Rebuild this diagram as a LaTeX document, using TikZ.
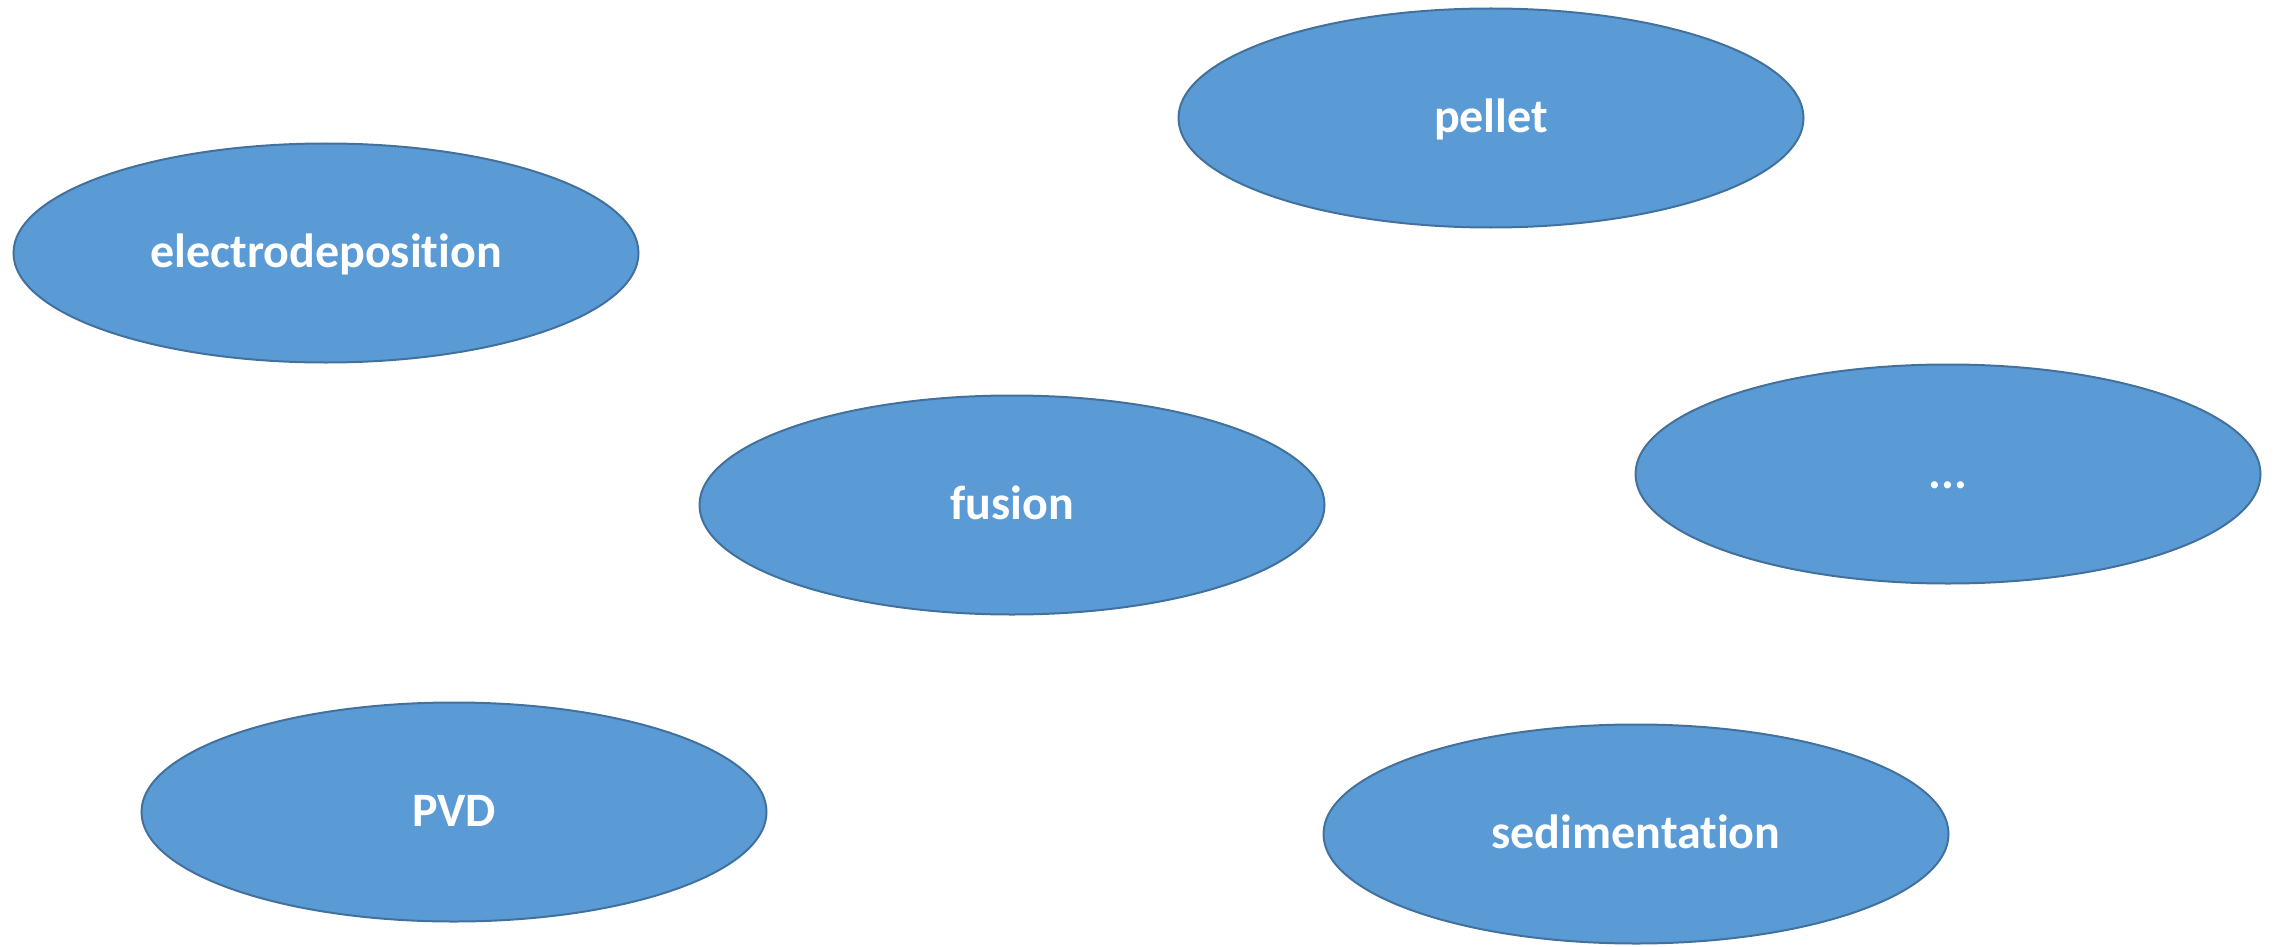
\documentclass[tikz,border=0pt]{standalone}
\usepackage{fontspec}
\setmainfont{Carlito}[Ligatures={NoCommon,NoRequired,NoContextual}]
\usetikzlibrary{shapes.geometric}
\definecolor{fillblue}{HTML}{5B9BD5}
\definecolor{lineblue}{HTML}{41719C}
\tikzset{
  oval/.style={ellipse, draw=lineblue, line width=2pt, fill=fillblue,
    minimum width=625pt, minimum height=219pt, inner sep=0pt,
    text height=36pt, text depth=8pt,
    text=white, font=\fontsize{48}{58}\selectfont\bfseries}
}
\begin{document}
\begin{tikzpicture}[x=1pt,y=-1pt]
\useasboundingbox (0,0) rectangle (2283,947);
\node[oval] (electro) at (326,253) {electrodeposition};
\node[oval] (pellet) at (1491,118) {pellet};
\node[oval] (fusion) at (1012,505) {fusion};
\node[oval] (dots) at (1948,474) {...};
\node[oval] (pvd) at (454,812) {PVD};
\node[oval] (sed) at (1636,834) {sedimentation};
\end{tikzpicture}
\end{document}
